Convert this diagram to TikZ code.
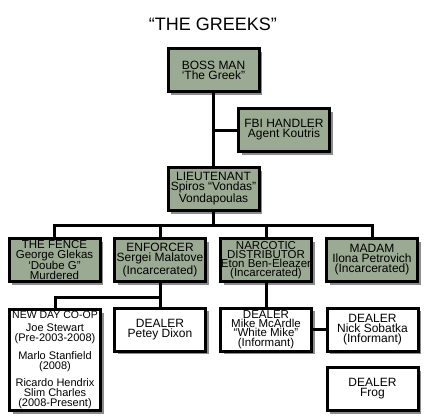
\documentclass[tikz,border=0pt]{standalone}
\usepackage{fontspec}
\setmainfont{Liberation Sans}
\usetikzlibrary{positioning,shadows}
\definecolor{greekgreen}{HTML}{9BAA92}

\begin{document}
\begin{tikzpicture}[
  x=1pt, y=-1pt,
  box/.style={draw, line width=3pt, minimum width=91pt, minimum height=43pt,
              inner sep=0pt, align=center, font=\fontsize{12}{10}\selectfont,
              drop shadow={shadow xshift=3pt, shadow yshift=-3pt, opacity=0.45, fill=black}},
  rank/.style={box, fill=greekgreen},
  crew/.style={box, fill=white},
  tight/.style={font=\fontsize{11.5}{9.2}\selectfont},
  link/.style={line width=3pt}
]
  \useasboundingbox (0,0) rectangle (426,420);
  \node[font=\fontsize{18}{18}\selectfont] (title) at (213,24) {“THE GREEKS”};
  % Top of the organisation
  \node[rank] (boss)   at (213.5,70.5) {BOSS MAN\\‘The Greek”};
  \node[rank] (fbi)    at (284,130)    {FBI HANDLER\\Agent Koutris};
  \node[rank] (lieut)  at (213.5,189)  {LIEUTENANT\\Spiros “Vondas”\\Vondapoulas};
  % Second row
  \node[rank, tight] (fence)    at (54.5,260) {THE FENCE\\George Glekas\\‘Doube G”\\Murdered};
  \node[rank] (enforcer) at (160,260)  {ENFORCER\\Sergei Malatove\\(Incarcerated)};
  \node[rank, tight] (narcotic) at (266,260)  {NARCOTIC\\DISTRIBUTOR\\Eton Ben-Eleazer\\(Incarcerated)};
  \node[rank] (madam)    at (372,260)  {MADAM\\Ilona Petrovich\\(Incarcerated)};
  % Street level
  \node[crew, minimum height=101pt, font=\fontsize{11}{10}\selectfont] (coop) at (55,360)
    {{\fontsize{10.5}{10}\selectfont NEW DAY CO-OP}\\[3pt]Joe Stewart\\(Pre-2003-2008)\\[6pt]Marlo Stanfield\\(2008)\\[6pt]Ricardo Hendrix\\Slim Charles\\(2008-Present)};
  \node[crew] (petey) at (160,329.5)   {DEALER\\Petey Dixon};
  \node[crew, tight] (mike)  at (266,329.5)   {DEALER\\Mike McArdle\\“White Mike”\\(Informant)};
  \node[crew] (nick)  at (372.5,329.5) {DEALER\\Nick Sobatka\\(Informant)};
  \node[crew] (frog)  at (372.5,389)   {DEALER\\Frog};
  % Connectors
  \coordinate (bus) at (213.5,225);
  \coordinate (sub) at (160,297);
  \draw[link] (boss) -- (lieut);
  \draw[link] (boss.south |- fbi.west) -- (fbi.west);
  \draw[link] (lieut) -- (bus);
  \draw[link] (fence.north) |- (bus) -| (madam.north);
  \draw[link] (enforcer.north) -- (enforcer.north |- bus);
  \draw[link] (narcotic.north) -- (narcotic.north |- bus);
  \draw[link] (enforcer) -- (petey);
  \draw[link] (coop.north) |- (sub);
  \draw[link] (narcotic) -- (mike);
  \draw[link] (mike) -- (nick);
\end{tikzpicture}
\end{document}
